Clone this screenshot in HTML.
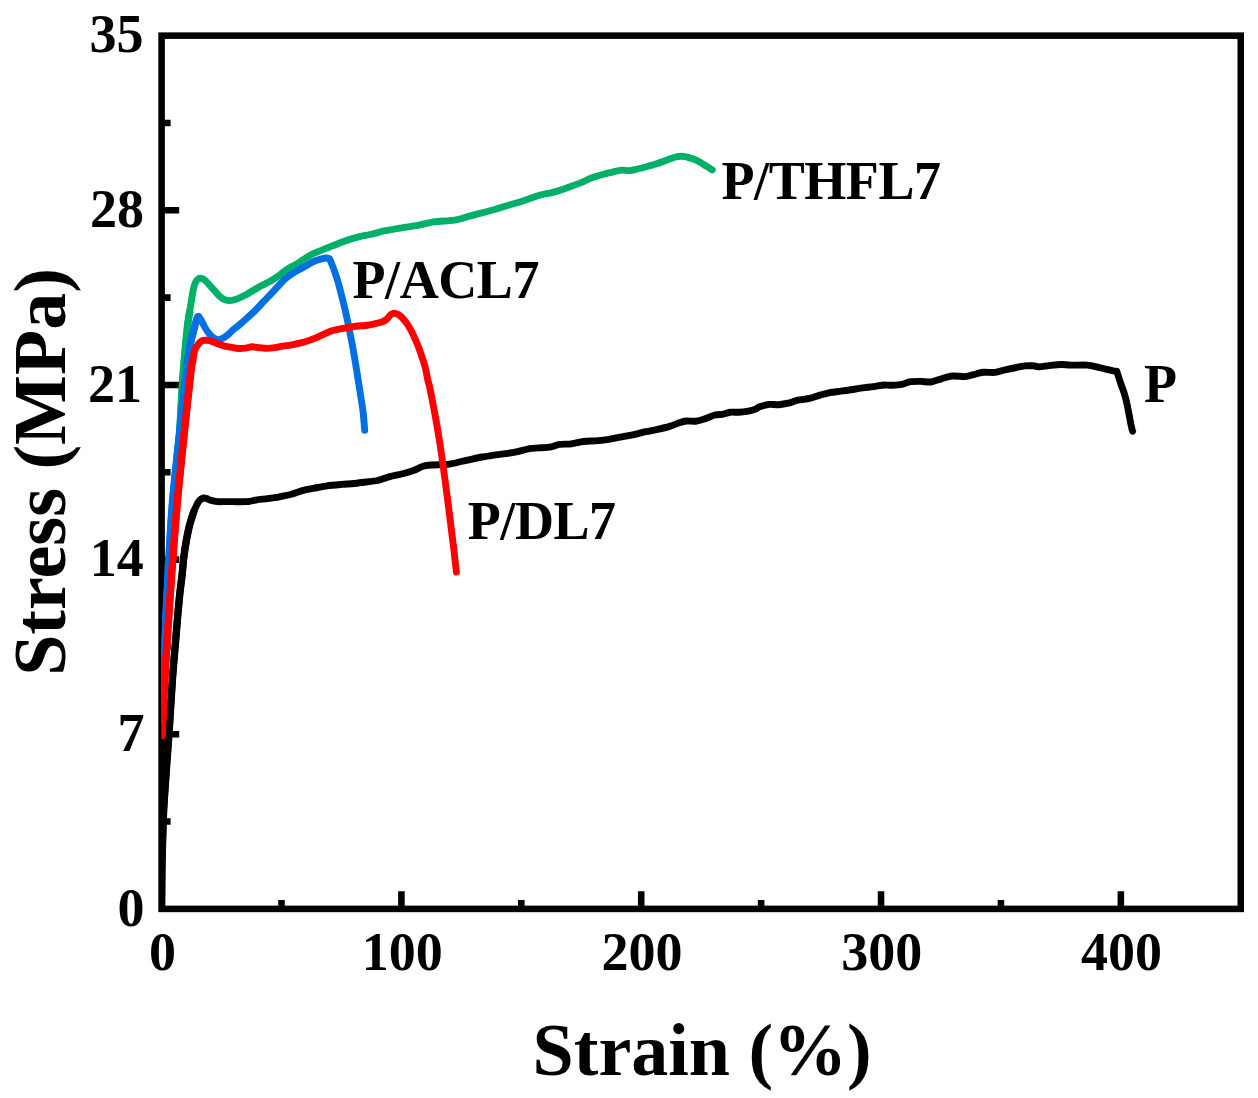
<!DOCTYPE html>
<html><head><meta charset="utf-8"><title>Stress-Strain</title>
<style>
html,body{margin:0;padding:0;background:#fff;}
body{width:1258px;height:1098px;overflow:hidden;}
svg{display:block;}
text{font-family:"Liberation Serif",serif;font-weight:bold;fill:#000;}
</style></head><body>
<svg width="1258" height="1098" viewBox="0 0 1258 1098">
<rect width="1258" height="1098" fill="#fff"/>
<defs><clipPath id="plot"><rect x="161.6" y="35.65" width="1079.15" height="873.25"/></clipPath></defs>
<rect x="161.6" y="35.65" width="1079.15" height="873.25" fill="none" stroke="#000" stroke-width="6.55"/>
<path d="M161.6 734.25H179.20M161.6 559.60H179.20M161.6 384.95H179.20M161.6 210.30H179.20M161.6 821.57H170.60M161.6 646.92H170.60M161.6 472.27H170.60M161.6 297.62H170.60M161.6 122.98H170.60M401.41 908.9V891.30M641.22 908.9V891.30M881.03 908.9V891.30M1120.84 908.9V891.30M281.51 908.9V899.90M521.32 908.9V899.90M761.13 908.9V899.90M1000.94 908.9V899.90" fill="none" stroke="#000" stroke-width="6.55"/>
<g clip-path="url(#plot)" fill="none" stroke-linejoin="round" stroke-linecap="round">
<path d="M161.6 908.9C161.6 908.9 161.8 877.6 161.9 870.0C162.0 862.4 162.1 859.9 162.3 852.0C162.5 844.1 163.1 821.9 163.6 811.0C164.1 800.1 165.6 780.5 166.3 770.0C167.0 759.5 168.3 743.9 169.1 732.0C169.9 720.1 171.4 693.9 172.3 681.0C173.2 668.1 175.4 643.8 176.1 635.0C176.8 626.2 177.3 620.0 177.8 614.7C178.3 609.4 179.1 600.7 179.6 595.6C180.1 590.5 181.3 581.6 181.9 576.5C182.5 571.4 183.2 562.2 183.8 557.4C184.4 552.6 185.5 545.1 186.3 540.8C187.1 536.5 188.5 529.4 189.5 525.5C190.5 521.6 192.9 514.3 193.8 511.6C194.7 508.9 195.8 507.0 196.5 505.5C197.2 504.0 198.5 501.6 199.4 500.6C200.3 499.6 202.1 498.4 203.1 498.1C204.1 497.8 205.8 498.3 206.8 498.6C207.8 498.9 208.9 499.7 210.3 500.1C211.7 500.5 215.3 501.4 217.4 501.6C219.5 501.8 223.1 501.6 225.8 501.6C228.5 501.6 234.5 501.7 237.7 501.7C240.9 501.7 247.2 501.7 249.7 501.4C252.2 501.1 254.4 500.2 256.8 499.8C259.2 499.4 264.6 499.0 267.6 498.6C270.6 498.2 276.3 497.4 279.5 496.8C282.7 496.2 288.2 495.2 291.4 494.3C294.6 493.4 300.2 491.2 303.4 490.4C306.6 489.6 312.1 488.6 315.3 488.0C318.5 487.4 323.7 486.3 327.2 485.8C330.7 485.3 338.3 484.7 341.9 484.4C345.5 484.1 350.7 483.8 353.9 483.5C357.1 483.2 362.6 482.4 365.8 482.0C369.0 481.6 374.5 481.2 377.7 480.5C380.9 479.8 386.5 477.5 389.7 476.6C392.9 475.7 398.4 474.8 401.6 474.0C404.8 473.2 410.6 471.4 413.5 470.4C416.4 469.4 420.7 466.9 423.1 466.2C425.5 465.5 427.9 465.3 431.4 465.0C434.9 464.7 445.3 464.6 449.3 464.1C453.3 463.6 458.5 462.1 461.3 461.5C464.1 460.9 467.3 460.2 470.0 459.6C472.7 459.0 478.7 457.6 481.9 457.0C485.1 456.4 490.7 455.7 493.9 455.2C497.1 454.7 502.6 454.1 505.8 453.6C509.0 453.1 514.5 452.3 517.7 451.6C520.9 450.9 526.5 449.1 529.7 448.6C532.9 448.1 538.7 447.9 541.6 447.7C544.5 447.5 548.7 447.2 551.1 446.8C553.5 446.4 556.8 444.8 559.5 444.4C562.2 444.0 568.2 444.2 571.4 443.8C574.6 443.4 580.2 441.9 583.4 441.5C586.6 441.1 592.1 441.1 595.3 440.9C598.5 440.7 603.7 440.2 607.2 439.7C610.7 439.2 618.3 437.5 621.9 436.8C625.5 436.1 630.7 435.4 633.9 434.7C637.1 434.0 642.6 432.4 645.8 431.7C649.0 431.0 654.5 430.1 657.7 429.4C660.9 428.7 666.8 427.3 669.7 426.4C672.6 425.5 677.0 423.5 679.2 422.8C681.4 422.1 684.2 421.2 686.4 421.0C688.6 420.8 693.4 421.5 695.9 421.2C698.4 420.9 703.0 419.4 705.5 418.6C708.0 417.8 712.6 415.6 715.0 415.0C717.4 414.4 721.3 414.5 723.4 414.1C725.5 413.7 728.4 412.4 730.5 412.2C732.6 412.0 736.5 412.4 738.9 412.3C741.3 412.2 746.2 411.5 748.4 411.1C750.6 410.7 754.1 409.7 755.6 409.1C757.1 408.5 757.7 407.4 759.5 406.8C761.3 406.2 766.6 404.7 769.1 404.4C771.6 404.1 776.1 404.9 778.6 404.7C781.1 404.5 785.7 403.8 788.2 403.2C790.7 402.6 794.8 400.8 797.7 400.2C800.6 399.6 806.8 399.0 809.7 398.4C812.6 397.8 816.7 396.1 819.2 395.4C821.7 394.7 825.9 393.4 828.8 392.8C831.7 392.2 837.5 391.6 840.7 391.2C843.9 390.8 849.4 390.0 852.6 389.5C855.8 389.0 861.4 388.1 864.6 387.7C867.8 387.3 874.0 386.6 876.5 386.2C879.0 385.8 881.6 385.1 883.7 385.0C885.8 384.9 889.6 385.4 892.0 385.3C894.4 385.2 899.5 384.9 901.9 384.4C904.3 383.9 907.8 382.1 910.3 381.7C912.8 381.3 918.3 381.4 921.0 381.4C923.7 381.4 927.9 382.3 930.6 382.0C933.3 381.7 938.4 379.6 941.3 378.8C944.2 378.0 948.9 376.3 952.1 376.0C955.3 375.7 962.3 376.8 965.2 376.6C968.1 376.4 971.1 375.2 973.5 374.6C975.9 374.0 980.2 372.6 983.1 372.3C986.0 372.0 992.1 372.7 995.0 372.4C997.9 372.1 1002.1 370.6 1004.6 370.0C1007.1 369.4 1011.4 368.5 1014.1 368.0C1016.8 367.5 1022.3 366.2 1024.8 365.9C1027.3 365.6 1031.2 365.7 1033.2 365.8C1035.2 365.9 1037.4 366.9 1039.5 366.9C1041.6 366.9 1046.2 365.9 1049.1 365.6C1052.0 365.3 1058.1 364.6 1061.0 364.5C1063.9 364.4 1067.1 365.0 1070.6 365.1C1074.1 365.2 1083.8 364.9 1087.3 365.1C1090.8 365.3 1094.3 366.3 1096.8 366.9C1099.3 367.5 1104.2 368.8 1106.4 369.3C1108.6 369.8 1112.1 370.7 1113.5 371.0C1114.9 371.3 1116.8 371.3 1116.8 371.3C1116.8 371.3 1119.1 378.6 1120.1 381.6C1121.1 384.6 1123.3 390.3 1124.3 393.5C1125.3 396.7 1126.6 402.3 1127.3 405.5C1128.0 408.7 1129.0 414.2 1129.6 417.4C1130.2 420.6 1131.6 427.5 1132.0 429.3C1132.4 431.1 1132.6 431.2 1132.6 431.2" stroke="#000" stroke-width="6.9"/>
<path d="M161.6 908.9C161.6 908.9 161.8 877.6 161.9 870.0C162.0 862.4 162.1 859.9 162.3 852.0C162.5 844.1 163.1 821.9 163.6 811.0C164.1 800.1 165.6 780.5 166.3 770.0C167.0 759.5 168.3 743.9 169.1 732.0C169.9 720.1 171.4 693.9 172.3 681.0C173.2 668.1 175.4 643.8 176.1 635.0C176.8 626.2 177.3 620.0 177.8 614.7C178.3 609.4 179.1 600.7 179.6 595.6C180.1 590.5 181.3 581.6 181.9 576.5C182.5 571.4 183.2 562.2 183.8 557.4C184.4 552.6 185.5 545.1 186.3 540.8C187.1 536.5 188.5 529.4 189.5 525.5C190.5 521.6 192.9 514.3 193.8 511.6" stroke="#000" stroke-width="7.4"/>
<path d="M161.9 720.0C161.9 720.0 163.6 666.7 165.0 640.0C166.4 613.3 170.6 545.9 172.4 520.0C174.2 494.1 177.4 464.7 178.8 446.0C180.2 427.3 181.6 395.6 182.7 380.0C183.8 364.4 186.3 338.2 187.2 329.2C188.1 320.2 188.9 317.0 189.5 312.7C190.1 308.4 191.5 300.0 192.0 296.8C192.5 293.6 193.1 290.6 193.5 288.8C193.9 287.0 194.7 284.2 195.2 283.0C195.7 281.8 196.7 280.2 197.3 279.6C197.9 279.0 199.1 278.3 200.0 278.3C200.9 278.3 202.6 278.5 203.7 279.3C204.8 280.1 207.3 282.6 208.6 284.0C209.9 285.4 212.3 288.2 213.7 289.7C215.1 291.2 217.4 294.2 218.8 295.5C220.2 296.8 222.5 298.6 223.9 299.3C225.3 300.0 227.6 300.5 229.0 300.6C230.4 300.7 232.7 300.2 234.1 299.9C235.5 299.6 237.5 298.8 239.2 298.0C240.9 297.2 244.9 295.3 246.9 294.2C248.9 293.1 252.5 290.9 254.5 289.7C256.5 288.5 260.0 286.5 262.2 285.3C264.4 284.1 269.1 282.0 271.1 280.8C273.1 279.6 275.8 277.8 277.5 276.6C279.2 275.4 282.2 272.8 283.9 271.6C285.6 270.4 288.6 268.4 290.2 267.4C291.8 266.4 294.2 265.4 295.9 264.4C297.6 263.4 300.9 261.1 303.0 259.8C305.1 258.5 308.5 255.9 311.8 254.3C315.1 252.7 323.5 249.4 327.7 247.7C331.9 246.0 339.4 242.9 343.6 241.4C347.8 239.9 356.0 237.5 359.5 236.6C363.0 235.7 366.5 235.3 370.0 234.5C373.5 233.7 381.7 231.6 385.9 230.7C390.1 229.8 397.6 228.5 401.8 227.8C406.0 227.1 413.5 226.2 417.7 225.4C421.9 224.6 429.4 222.4 433.6 221.8C437.8 221.2 446.3 220.9 449.5 220.6C452.7 220.3 455.1 220.1 457.4 219.6C459.7 219.1 464.5 217.6 467.0 216.9C469.5 216.2 472.6 215.3 475.9 214.4C479.2 213.5 487.6 211.5 491.8 210.3C496.0 209.1 503.5 206.8 507.7 205.5C511.9 204.2 519.4 202.1 523.6 200.7C527.8 199.3 535.7 196.4 539.5 195.3C543.3 194.2 548.5 193.5 552.0 192.6C555.5 191.7 561.9 189.6 565.9 188.2C569.9 186.8 578.6 183.7 581.8 182.4C585.0 181.1 587.6 179.5 589.7 178.6C591.8 177.7 595.6 176.7 597.7 176.0C599.8 175.3 603.5 174.3 605.6 173.7C607.7 173.1 611.5 172.3 613.6 171.8C615.7 171.3 619.4 170.3 621.5 170.1C623.6 169.9 627.4 170.7 629.5 170.6C631.6 170.5 634.9 169.6 637.4 169.0C639.9 168.4 645.4 166.9 647.9 166.2C650.4 165.5 653.8 164.8 655.9 164.1C658.0 163.4 661.7 162.1 663.8 161.3C665.9 160.5 670.0 158.9 671.8 158.3C673.6 157.7 676.0 157.0 677.4 156.7C678.8 156.4 680.7 156.2 682.1 156.3C683.5 156.4 685.9 156.8 687.7 157.3C689.5 157.8 693.5 158.9 695.6 159.8C697.7 160.7 701.7 163.3 703.6 164.4C705.5 165.5 708.8 167.7 710.0 168.4C711.2 169.1 712.3 169.8 712.3 169.8" stroke="#00AF68" stroke-width="6.9"/>
<path d="M161.9 720.0C161.9 720.0 163.6 666.7 165.0 640.0C166.4 613.3 170.6 545.9 172.4 520.0C174.2 494.1 177.4 464.7 178.8 446.0C180.2 427.3 181.6 395.6 182.7 380.0C183.8 364.4 186.3 338.2 187.2 329.2C188.1 320.2 188.9 317.0 189.5 312.7" stroke="#00AF68" stroke-width="7.4"/>
<path d="M162.2 700.0C162.2 700.0 163.5 666.0 164.8 640.0C166.1 614.0 169.5 539.7 172.3 505.0C175.1 470.3 183.2 400.9 185.5 380.0C187.8 359.1 188.4 355.2 189.5 348.4C190.6 341.6 193.0 333.2 194.0 329.2C195.0 325.2 196.6 319.9 197.2 318.2C197.8 316.5 198.4 316.6 198.4 316.6C198.4 316.6 200.1 318.3 200.9 319.6C201.7 320.9 203.2 324.3 204.1 326.0C205.0 327.7 206.9 330.8 208.0 332.2C209.1 333.6 210.7 335.8 212.0 336.8C213.3 337.8 216.1 339.4 217.5 339.6C218.9 339.8 221.2 339.0 222.5 338.4C223.8 337.8 225.9 336.3 227.3 335.2C228.7 334.1 231.1 331.6 232.7 330.2C234.3 328.8 237.3 326.6 239.2 325.0C241.1 323.4 244.9 320.0 246.9 318.2C248.9 316.4 252.5 313.2 254.5 311.2C256.5 309.2 260.2 305.1 262.2 303.0C264.2 300.9 267.8 297.3 269.8 295.2C271.8 293.1 275.6 288.9 277.5 286.9C279.4 284.9 282.2 281.6 283.9 280.0C285.6 278.4 288.4 276.4 290.2 275.1C292.0 273.8 295.6 271.6 297.6 270.4C299.6 269.2 303.3 267.4 305.3 266.3C307.3 265.2 310.9 262.8 312.9 261.8C314.9 260.8 318.8 259.6 320.6 259.1C322.4 258.6 325.1 258.0 326.3 258.0C327.5 258.0 329.6 258.8 329.6 258.8C329.6 258.8 332.4 265.3 333.6 268.7C334.8 272.1 337.3 279.4 338.6 284.0C339.9 288.6 342.3 298.3 343.5 303.1C344.7 307.9 346.4 315.5 347.4 320.3C348.4 325.1 350.3 334.3 351.3 339.4C352.3 344.5 353.8 353.4 354.7 358.5C355.6 363.6 357.0 372.5 357.8 377.6C358.6 382.7 360.1 392.1 360.8 396.7C361.5 401.3 362.6 407.5 363.1 412.0C363.6 416.5 364.7 430.3 364.7 430.3" stroke="#0270E3" stroke-width="6.9"/>
<path d="M162.2 700.0C162.2 700.0 163.5 666.0 164.8 640.0C166.1 614.0 169.5 539.7 172.3 505.0C175.1 470.3 183.2 400.9 185.5 380.0C187.8 359.1 188.4 355.2 189.5 348.4C190.6 341.6 193.0 333.2 194.0 329.2C195.0 325.2 196.6 319.9 197.2 318.2C197.8 316.5 198.4 316.6 198.4 316.6" stroke="#0270E3" stroke-width="7.4"/>
<path d="M162.0 735.2C162.0 735.2 165.2 670.7 167.2 640.0C169.2 609.3 174.0 540.3 177.1 505.0C180.2 469.7 188.4 394.2 190.5 375.0C192.6 355.8 192.2 364.3 192.7 361.1C193.2 357.9 194.0 352.9 194.6 350.9C195.2 348.9 196.3 347.1 197.2 345.8C198.1 344.5 200.0 342.1 201.0 341.4C202.0 340.7 203.6 340.4 204.8 340.3C206.0 340.2 208.4 340.3 209.9 340.7C211.4 341.1 214.4 342.6 216.3 343.3C218.2 344.0 221.7 345.2 223.9 345.8C226.1 346.4 230.9 347.2 232.9 347.6C234.9 348.0 237.5 348.4 239.2 348.5C240.9 348.6 243.9 348.3 245.6 348.1C247.3 347.9 250.1 346.9 252.0 346.8C253.9 346.7 257.6 347.5 259.6 347.7C261.6 347.9 265.3 348.4 267.3 348.4C269.3 348.4 272.9 348.0 274.9 347.7C276.9 347.4 280.6 346.4 282.6 346.1C284.6 345.8 288.2 345.5 290.2 345.2C292.2 344.9 296.0 343.9 297.9 343.5C299.8 343.1 301.9 342.7 304.3 342.0C306.7 341.3 312.2 339.4 315.9 337.9C319.6 336.4 327.8 332.1 331.9 330.8C336.0 329.5 343.4 328.4 346.8 327.8C350.2 327.2 355.1 326.3 357.6 326.0C360.1 325.7 363.5 325.8 365.9 325.5C368.3 325.2 373.3 324.1 375.5 323.6C377.7 323.1 381.1 322.3 382.6 321.8C384.1 321.3 385.5 320.3 386.5 319.5C387.5 318.7 389.0 316.4 389.8 315.6C390.6 314.8 391.7 314.0 392.4 313.7C393.1 313.4 394.1 313.2 394.8 313.3C395.5 313.4 396.9 313.7 397.8 314.2C398.7 314.7 400.3 315.8 401.5 317.0C402.7 318.2 405.2 321.2 406.5 323.0C407.8 324.8 410.0 328.4 411.3 330.8C412.6 333.2 414.7 337.9 416.0 340.9C417.3 343.9 419.6 350.1 420.8 353.5C422.0 356.9 424.0 362.9 425.0 366.6C426.0 370.3 427.4 378.2 428.0 380.9C428.6 383.6 428.9 383.2 429.6 386.7C430.3 390.2 432.6 401.6 433.6 407.1C434.6 412.6 436.4 422.1 437.3 427.6C438.2 433.1 439.8 442.6 440.6 448.0C441.4 453.4 442.7 462.6 443.5 468.4C444.3 474.2 445.7 485.2 446.5 491.3C447.3 497.4 448.7 508.2 449.5 514.3C450.3 520.4 451.6 531.8 452.3 537.2C453.0 542.6 454.0 550.5 454.5 555.1C455.0 559.7 456.4 572.0 456.4 572.0" stroke="#FF0000" stroke-width="6.9"/>
<path d="M162.0 735.2C162.0 735.2 165.2 670.7 167.2 640.0C169.2 609.3 174.0 540.3 177.1 505.0C180.2 469.7 188.4 394.2 190.5 375.0C192.6 355.8 192.2 364.3 192.7 361.1" stroke="#FF0000" stroke-width="7.4"/>
</g>
<text x="144.5" y="925.5" font-size="54" text-anchor="end">0</text>
<text x="144.5" y="750.9" font-size="54" text-anchor="end">7</text>
<text x="143.8" y="576.2" font-size="54" text-anchor="end">14</text>
<text x="142.0" y="401.5" font-size="54" text-anchor="end">21</text>
<text x="144.0" y="226.9" font-size="54" text-anchor="end">28</text>
<text x="143.5" y="52.2" font-size="54" text-anchor="end">35</text>
<text x="162.4" y="970.3" font-size="54" text-anchor="middle">0</text>
<text x="402.2" y="970.3" font-size="54" text-anchor="middle">100</text>
<text x="642.0" y="970.3" font-size="54" text-anchor="middle">200</text>
<text x="881.8" y="970.3" font-size="54" text-anchor="middle">300</text>
<text x="1121.6" y="970.3" font-size="54" text-anchor="middle">400</text>
<text x="721.5" y="198.8" font-size="54" letter-spacing="-0.42">P/THFL7</text>
<text x="352.5" y="298.1" font-size="54" letter-spacing="-0.42">P/ACL7</text>
<text x="467.8" y="538.8" font-size="54" letter-spacing="-0.42">P/DL7</text>
<text x="1144" y="402" font-size="54">P</text>
<text x="702.2" y="1074.6" font-size="74" text-anchor="middle">Strain (%)</text>
<text transform="translate(64.8 472) rotate(-90)" font-size="74" text-anchor="middle">Stress (MPa)</text>
</svg>
</body></html>
